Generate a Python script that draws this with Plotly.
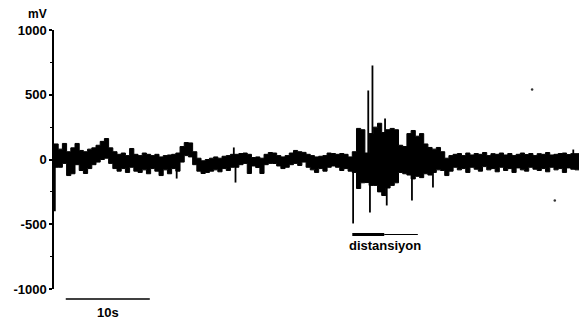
import numpy as np
import plotly.graph_objects as go

# ---- data (mV) ----
# envelope of the dense trace, sampled every 0.5 s
step_s = 0.5
upper_mv = [
    120, 80, 124, 60, 90, 124, 70, 60, 80, 90, 110, 140, 162, 90, 60, 40, 50, 30, 85, 40,
    30, 50, 40, 30, 40, 20, 30, 35, 40, 50, 100, 131, 128, 60, 10, -10, 0, 10, 20, 10,
    25, 30, 40, 40, 46, 50, 40, 15, 20, 10, 40, 54, 50, 30, 20, 30, 50, 70, 60, 55,
    40, 30, 20, 25, 30, 50, 46, 40, 46, 40, 20, 60, 240, 230, 50, 200, 250, 280, 208, 230,
    240, 230, 110, 100, 200, 224, 180, 200, 120, 93, 80, 93, 60, 10, 30,
    40, 46, 30, 50, 35, 46, 40, 54, 30, 45, 40, 50, 35, 46, 30, 40, 50, 38, 46, 30,
    45, 40, 54, 35, 40, 46, 50, 38, 45, 45, 40,
]
lower_mv = [
    -60, -60, -30, -124, -110, -40, -85, -108, -70, -40, -20, 0, 10, -30, -70, -90, -70, -100, -60, -90,
    -100, -80, -110, -70, -90, -124, -80, -110, -70, -90, -20, 30, 20, -40, -90, -108, -100, -90, -80, -95,
    -70, -85, -60, -60, -40, -30, -108, -50, -62, -108, -40, -30, -31, -50, -70, -60, -40, -30, -46, -20,
    -60, -80, -100, -70, -90, -60, -50, -60, -85, -70, -90, -100, -224, -180, -178, -200, -200, -250, -278, -220,
    -200, -180, -100, -110, -120, -150, -130, -140, -110, -120, -100, -80, -85, -124, -90,
    -60, -80, -70, -100, -60, -75, -90, -55, -80, -70, -95, -60, -85, -70, -100, -65, -80, -90, -60, -75,
    -85, -70, -95, -60, -80, -70, -100, -65, -75, -80, -60,
]
# isolated thin spikes sticking out of the band
spike_t = [0.1, 14.6, 21.4, 21.6, 35.6, 37.4, 37.6, 37.9, 39.4, 39.6, 42.6, 45.1, 61.8]
spike_mv = [-400, -147, 93, -178, -494, 533, -409, 726, 316, -355, -316, -216, 77]

stray_t = [56.9, 59.6]
stray_mv = [540, -317]

y_ticks = [-1000, -500, 0, 500, 1000]
y_labels = ["-1000", "-500", "0", "500", "1000"]
y_minor = [-750, -250, 250, 750]
y_range = [-1000, 1000]
x_range = [0, 62.6]

scale_bar_s = [1.4, 11.4]
scale_label = "10s"
dist_thick_s = [35.5, 39.3]
dist_thin_s = [39.3, 43.3]
dist_level_mv = -579
dist_label = "distansiyon"
unit_label = "mV"

n = len(upper_mv)
assert n == len(lower_mv)
t0 = np.arange(n) * step_s

FONT = "Liberation Sans, Arial, Helvetica, sans-serif"

fig = go.Figure()
# lower envelope, then upper envelope filled down to it -> solid black band
fig.add_trace(go.Scatter(x=t0, y=lower_mv, mode="lines",
                         line=dict(color="black", width=1, shape="hv"), hoverinfo="skip"))
fig.add_trace(go.Scatter(x=t0, y=upper_mv, mode="lines", fill="tonexty",
                         fillcolor="black",
                         line=dict(color="black", width=1, shape="hv"), hoverinfo="skip"))
# spikes as thin vertical strokes from the baseline
sx, sy = [], []
for t, v in zip(spike_t, spike_mv):
    sx += [t, t, None]
    sy += [0, v, None]
fig.add_trace(go.Scatter(x=sx, y=sy, mode="lines", connectgaps=False,
                         line=dict(color="black", width=1.8), hoverinfo="skip"))
fig.add_trace(go.Scatter(x=stray_t, y=stray_mv, mode="markers",
                         marker=dict(color="#333", size=2.5), hoverinfo="skip"))

# distansiyon bar
fig.add_trace(go.Scatter(x=dist_thick_s, y=[dist_level_mv] * 2, mode="lines",
                         line=dict(color="black", width=3), hoverinfo="skip"))
fig.add_trace(go.Scatter(x=dist_thin_s, y=[dist_level_mv] * 2, mode="lines",
                         line=dict(color="black", width=1.2), hoverinfo="skip"))
fig.add_annotation(x=sum(dist_thick_s + dist_thin_s) / 4 + 0.05, y=dist_level_mv, yshift=-11,
                   text=dist_label, showarrow=False, xanchor="center", yanchor="middle",
                   font=dict(family=FONT, size=13, color="black", weight="bold"))

# 10 s scale bar (below plot area)
fig.add_shape(type="line", xref="x", yref="paper", x0=scale_bar_s[0], x1=scale_bar_s[1],
              y0=-0.0386, y1=-0.0386, line=dict(color="black", width=1.5))
fig.add_annotation(x=sum(scale_bar_s) / 2, xref="x", y=-0.089, yref="paper",
                   text=scale_label, showarrow=False, xanchor="center", yanchor="middle",
                   font=dict(family=FONT, size=13, color="black", weight="bold"))

# unit label
fig.add_annotation(x=0, xref="paper", xshift=-17, y=1.0605, yref="paper",
                   text=unit_label, showarrow=False, xanchor="center", yanchor="middle",
                   font=dict(family=FONT, size=12, color="black", weight="bold"))

# page body has an 8 px default margin, so the figure is 8 px smaller
fig.update_layout(
    width=579, height=317,
    margin=dict(l=46, r=7, t=22, b=36, autoexpand=False),
    paper_bgcolor="white", plot_bgcolor="white",
    showlegend=False,
    xaxis=dict(range=x_range, visible=False, showgrid=False, zeroline=False, automargin=False),
    yaxis=dict(range=y_range, tickvals=y_ticks, ticktext=y_labels, automargin=False,
               showline=True, linecolor="black", linewidth=1.5,
               ticks="outside", ticklen=3, tickwidth=1.5, tickcolor="black",
               minor=dict(tickvals=y_minor, ticks="outside", ticklen=2,
                          tickcolor="black", tickwidth=1),
               showgrid=False, zeroline=False,
               tickfont=dict(family=FONT, size=13, color="black", weight="bold")),
)

fig.write_html("out.html")
